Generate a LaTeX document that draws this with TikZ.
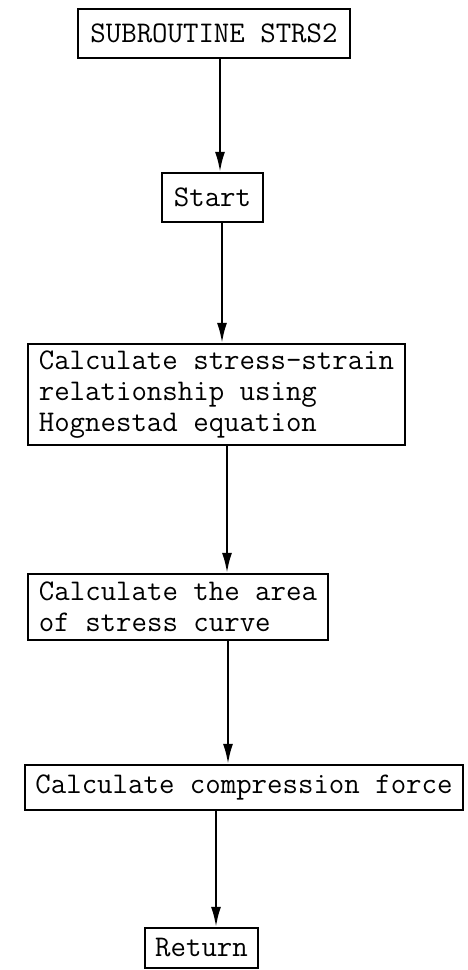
\documentclass[tikz,border=0pt]{standalone}
\usetikzlibrary{arrows.meta}
\begin{document}
\begin{tikzpicture}[x=1pt,y=1pt,
  boxnode/.style={draw, line width=2.2pt, inner sep=0pt, align=left,
    font=\ttfamily\fontsize{30}{31}\selectfont},
  arr/.style={line width=2.2pt, -{Latex[length=20pt,width=10pt]}}]
\useasboundingbox (0,0) rectangle (467,-970);
\node[boxnode, minimum width=272pt, minimum height=49pt] (b1) at (214,-33.5) {SUBROUTINE STRS2};
\node[boxnode, minimum width=101pt, minimum height=49pt] (b2) at (212.5,-197.5) {Start};
\node[boxnode, minimum width=377pt, minimum height=101pt] (b3) at (216.5,-394.5) {Calculate stress-strain\\relationship using\\Hognestad equation};
\node[boxnode, minimum width=300pt, minimum height=66pt] (b4) at (178,-607) {Calculate the area\\of stress curve};
\node[boxnode, minimum width=438pt, minimum height=45pt] (b5) at (244,-787.5) {Calculate compression force};
\node[boxnode, minimum width=113pt, minimum height=40pt] (b6) at (201.5,-948) {Return};
\draw[arr] ([xshift=6pt]b1.south) -- ([xshift=7.5pt]b2.north);
\draw[arr] ([xshift=9.5pt]b2.south) -- ([xshift=5.5pt]b3.north);
\draw[arr] ([xshift=10.5pt]b3.south) -- ([xshift=49pt]b4.north);
\draw[arr] ([xshift=50pt]b4.south) -- ([xshift=-16pt]b5.north);
\draw[arr] ([xshift=-28pt]b5.south) -- ([xshift=14.5pt]b6.north);
\end{tikzpicture}
\end{document}
